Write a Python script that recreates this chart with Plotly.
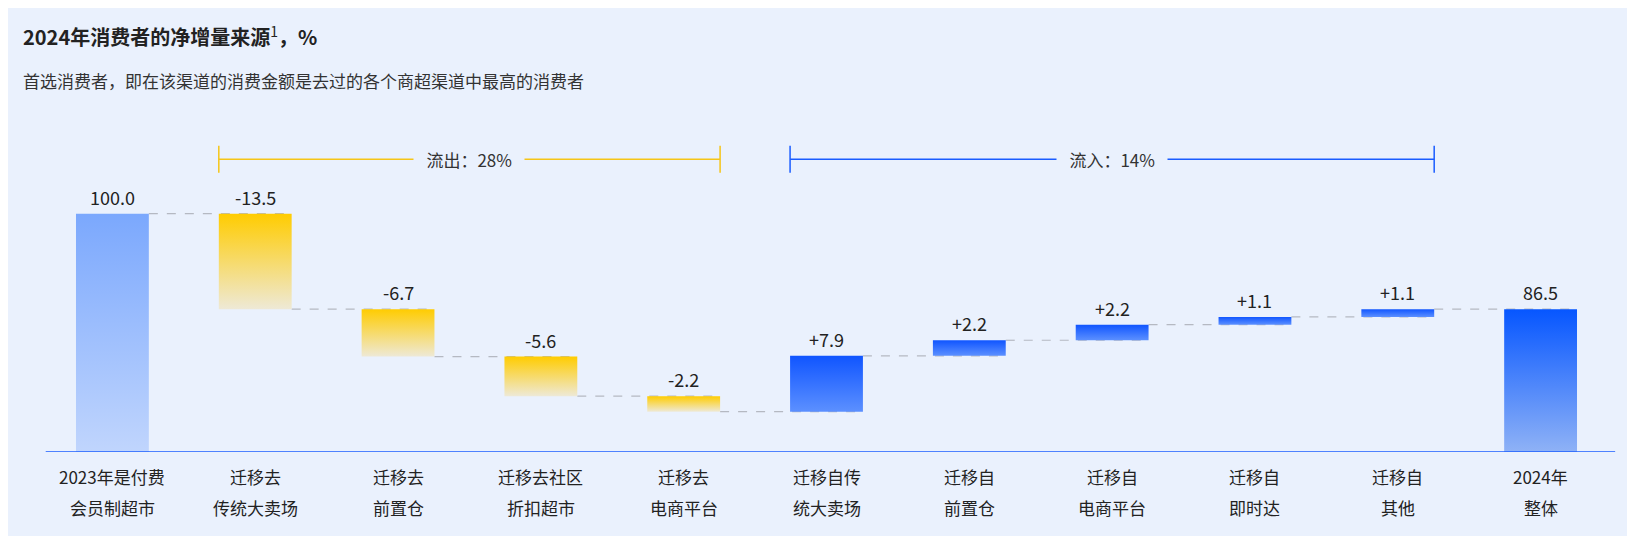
import plotly.graph_objects as go

categories = ["2023年是付费<br>会员制超市", "迁移去<br>传统大卖场", "迁移去<br>前置仓", "迁移去社区<br>折扣超市", "迁移去<br>电商平台",
              "迁移自传<br>统大卖场", "迁移自<br>前置仓", "迁移自<br>电商平台", "迁移自<br>即时达", "迁移自<br>其他", "2024年<br>整体"]
changes = [100.0, -13.5, -6.7, -5.6, -2.2, 7.9, 2.2, 2.2, 1.1, 1.1, 86.5]
labels = ["100.0", "-13.5", "-6.7", "-5.6", "-2.2", "+7.9", "+2.2", "+2.2", "+1.1", "+1.1", "86.5"]
kinds = ["start", "out", "out", "out", "out", "in", "in", "in", "in", "in", "end"]

YMIN, YMAX = 66.3, 110.7
W = 0.255
BG = "#eaf1fd"
grad = {
    "start": [[0, "#c0d5fd"], [1, "#7ba8fd"]],
    "out": [[0, "#eee9d6"], [1, "#ffcc00"]],
    "in": [[0, "#5c90ff"], [1, "#1055ff"]],
    "end": [[0, "#8fb2f6"], [1, "#0656ff"]],
}

fig = go.Figure()
level = 0.0
bars = []
for i, (c, k) in enumerate(zip(changes, kinds)):
    if k in ("start", "end"):
        lo, hi = YMIN, c
        level = c
    else:
        a, b = level, level + c
        lo, hi = min(a, b), max(a, b)
        level = b
    bars.append((lo, hi))

for i in range(len(changes) - 1):
    y = bars[i][1] if (kinds[i] in ("start", "in", "end")) else bars[i][0]
    fig.add_trace(go.Scatter(x=[i + W, i + 1 + W], y=[y, y], mode="lines",
                             line=dict(color="#b5b9c2", width=1.2, dash="dash"),
                             hoverinfo="skip", showlegend=False))

for i, ((lo, hi), k) in enumerate(zip(bars, kinds)):
    fig.add_trace(go.Scatter(x=[i - W, i + W, i + W, i - W, i - W], y=[lo, lo, hi, hi, lo],
                             fill="toself", mode="lines", line=dict(width=0),
                             fillgradient=dict(type="vertical", colorscale=grad[k]),
                             hoverinfo="skip", showlegend=False))
    fig.add_annotation(x=i, y=hi, text=labels[i], showarrow=False, yanchor="bottom", yshift=2,
                       font=dict(size=18, color="#222"))
    for j, line in enumerate(categories[i].split("<br>")):
        fig.add_annotation(x=i, xref="x", yref="paper", y=0, yanchor="middle", yshift=-24 - 31 * j,
                           text=line, showarrow=False, font=dict(size=17, color="#222"))

by = 107.7
for (x0, x1, col, txt) in [(1 - W, 4 + W, "#f5c518", "流出：28%"), (5 - W, 9 + W, "#1a5cff", "流入：14%")]:
    fig.add_shape(type="line", x0=x0, x1=x1, y0=by, y1=by, line=dict(color=col, width=1.5))
    for xx in (x0, x1):
        fig.add_shape(type="line", x0=xx, x1=xx, y0=by - 1.9, y1=by + 1.9, line=dict(color=col, width=1.5))
    fig.add_annotation(x=(x0 + x1) / 2, y=by, text="&nbsp;&nbsp;&nbsp;" + txt + "&nbsp;&nbsp;&nbsp;", showarrow=False,
                       bgcolor=BG, font=dict(size=17, color="#333"))

fig.add_annotation(xref="paper", yref="paper", x=-0.013, y=1, xanchor="left", yanchor="middle", yshift=102,
                   text="<b>2024年消费者的净增量来源</b><sup>1</sup><b>，%</b>", showarrow=False,
                   font=dict(size=20, color="#222"))
fig.add_annotation(xref="paper", yref="paper", x=-0.013, y=1, xanchor="left", yanchor="middle", yshift=58,
                   text="首选消费者，即在该渠道的消费金额是去过的各个商超渠道中最高的消费者", showarrow=False,
                   font=dict(size=17, color="#333"))

fig.update_layout(
    width=1635, height=536, paper_bgcolor=BG, plot_bgcolor=BG,
    margin=dict(l=33, r=31, t=130, b=92),
    font=dict(family="Noto Sans CJK SC", color="#333"),
    xaxis=dict(range=[-0.5, 10.5], showticklabels=False, showgrid=False,
               zeroline=False, showline=False, ticks=""),
    yaxis=dict(range=[YMIN, YMAX], visible=False, showgrid=False),
)
fig.add_shape(type="line", xref="paper", yref="y", x0=0.003, x1=1.002, y0=YMIN, y1=YMIN,
              line=dict(color="#1a5cff", width=1.5))
fig.write_html("out.html")
